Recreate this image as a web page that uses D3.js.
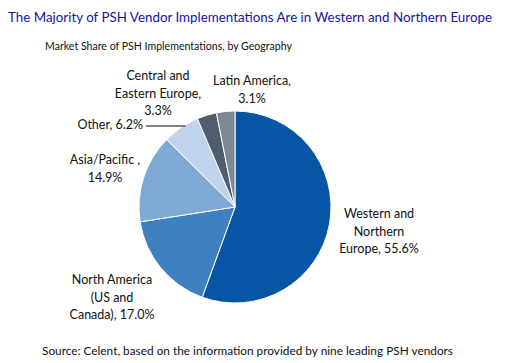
<!DOCTYPE html>
<html><head><meta charset="utf-8">
<script src="https://cdn.jsdelivr.net/npm/d3@7"></script>
<style>body{margin:0;background:#fff}text{font-family:Lato,"Noto Sans",sans-serif}</style>
</head><body>
<svg id="c" width="529" height="363"></svg>
<script>
const categories = ["Western and Northern Europe","North America (US and Canada)","Asia/Pacific","Other","Central and Eastern Europe","Latin America"];
const values = [55.6, 17.0, 14.9, 6.2, 3.3, 3.1];
const colors = ["#0656a5","#3f80c0","#7fa9d5","#bfd4ea","#4f5e6e","#7f8790"];
const labelLines = [
  ["Western and","Northern","Europe, 55.6%"],
  ["North America","(US and","Canada), 17.0%"],
  ["Asia/Pacific ,","14.9%"],
  ["Other, 6.2%"],
  ["Central and","Eastern Europe,","3.3%"],
  ["Latin America,","3.1%"]
];
const labelPos = [[379,215],[112,281],[105,161],[143,126],[158,77],[252,82]];
const anchors = ["middle","middle","middle","end","middle","middle"];

const svg = d3.select("#c");
svg.append("text").attr("x",8).attr("y",22).attr("fill","#1414a8").attr("font-size",14)
  .attr("textLength",484).attr("lengthAdjust","spacingAndGlyphs")
  .text("The Majority of PSH Vendor Implementations Are in Western and Northern Europe");
svg.append("text").attr("x",45).attr("y",50).attr("fill","#111").attr("font-size",11)
  .attr("textLength",247).attr("lengthAdjust","spacingAndGlyphs")
  .text("Market Share of PSH Implementations, by Geography");
svg.append("text").attr("x",42).attr("y",355).attr("fill","#111").attr("font-size",11)
  .attr("textLength",411).attr("lengthAdjust","spacingAndGlyphs")
  .text("Source: Celent, based on the information provided by nine leading PSH vendors");

const cx=235, cy=207, r=96;
const pie = d3.pie().sort(null).value(d=>d);
const arcs = pie(values);
const arc = d3.arc().innerRadius(0).outerRadius(r);
const g = svg.append("g").attr("transform",`translate(${cx},${cy})`);
g.selectAll("path").data(arcs).join("path").attr("d",arc).attr("fill",(d,i)=>colors[i]).attr("stroke","#fff").attr("stroke-width",1);

// straight leader line for Other, ending at the pie edge on the label's level
const ly = 126;
const ex = cx - Math.sqrt(r*r - (ly-cy)*(ly-cy)) + 2;
svg.append("line").attr("x1",146).attr("y1",ly).attr("x2",ex).attr("y2",ly).attr("stroke","#000").attr("stroke-width",1);

labelLines.forEach((lines,i)=>{
  const t = svg.append("text").attr("x",labelPos[i][0]).attr("y",labelPos[i][1]).attr("text-anchor",anchors[i]).attr("font-size",12.5).attr("fill","#111").attr("dominant-baseline","middle");
  lines.forEach((s,j)=>t.append("tspan").attr("x",labelPos[i][0]).attr("dy",j?17.5:0).text(s));
});
</script>
</body></html>
